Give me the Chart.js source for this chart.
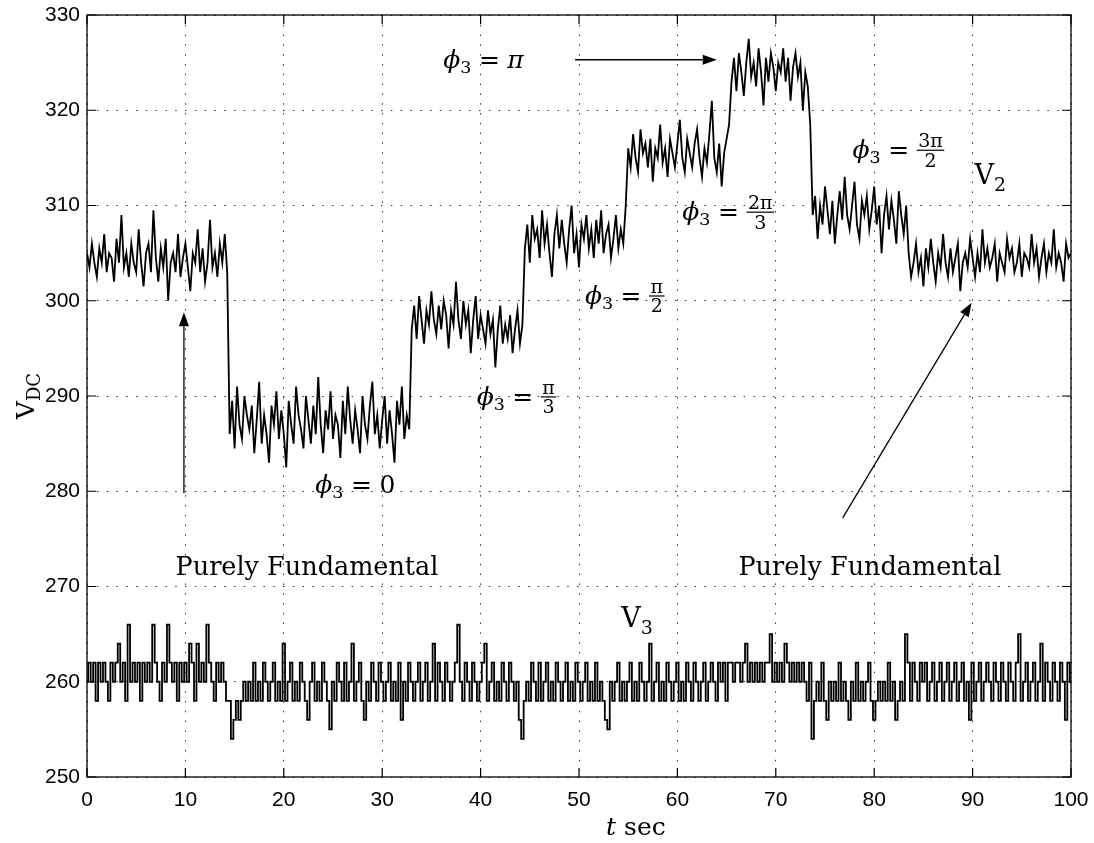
<!DOCTYPE html>
<html><head><meta charset="utf-8">
<script src="https://cdn.jsdelivr.net/npm/chart.js@4.4.1/dist/chart.umd.min.js"></script>
<style>html,body{margin:0;padding:0;background:#fff;}#wrap{width:1094px;height:843px;}</style>
</head><body><div id="wrap"><canvas id="c" width="1094" height="843"></canvas></div>
<script>
// sampling step of both traces (seconds)
const T_STEP = 0.25;
const xTicks = [0,10,20,30,40,50,60,70,80,90,100];
const yTicks = [250,260,270,280,290,300,310,320,330];

// V2 (upper trace), one value every 0.25 s
const v2 = [
305,303.5,306,304,302.5,305.5,304,307,303,305,
304.5,302,306.5,304,309,303.5,305,302.5,306,304,
303,307.5,304,301.5,305,306,303,309.5,304.5,302,
305.5,303.5,306.5,300,304,305,303,307,302.5,304.5,
306,303.5,301,305,304,307.5,303,305.5,302,304,
308.5,303.5,305,302.5,306,304,307,303,
286,289.5,284.5,291,287,285.5,290,288,286.5,289,
284,287.5,291.5,285,288,286,283,289,287,290.5,
285.5,288.5,286,282.5,289.5,287,285,291,288,286.5,
284.5,290,287.5,285,289,286,292,287,284,288.5,
286.5,290.5,285.5,288,287,283.5,289.5,286,291,287.5,
285,288.5,286.5,284,290,287,285.5,289,291.5,286,
288,284.5,287.5,290,285,288.5,286,283,289.5,287,
291,285.5,288,286.5,
297,299.5,296,300.5,298,295.5,299,297.5,301,298,
296.5,299.5,297,300,298.5,295,299,297.5,302,298,
296,300,297.5,299,294.5,298,300.5,296,298.5,297,
295.5,299,296.5,298,293,297,299.5,295.5,297.5,296,
298.5,294.5,297,299,295.5,297.5,
305.5,308,304,309,306.5,307.5,304.5,309.5,306,308,
305,302.5,307,309,305.5,308.5,306,304,307.5,310,
305,307,303.5,308,306.5,309,305.5,307.5,304.5,308.5,
306,309.5,305,307,308,304.5,306.5,309,305.5,307.5,
306,310,
316,314,317.5,315,313.5,318,315.5,316.5,314,317,
312.5,316,315,318.5,314.5,316,313,317,315.5,314,
316.5,319,315,313.5,317,315.5,314,316.5,318,315,
313,316,314.5,317.5,321,315,313.5,316.5,312,315.5,
317,318.5,
323,325.5,322,326,324,321.5,325,327.5,323.5,325,
322.5,326.5,324,320.5,325.5,323,326,324.5,322,325,
324,326.5,323,325.5,321,324.5,326,323.5,325,320,
324,322.5,318.5,
309,311,306.5,310,308,312,309.5,307,310.5,306,
309,311.5,308.5,313,309,307.5,310,312.5,308,306.5,
310.5,309,311,307.5,309.5,312,308,310,305,309,
311,307.5,310.5,308.5,306,311.5,309,307,310,
305,302.5,304,306,303,304.5,301.5,305.5,303.5,306.5,
304,302,305,303.5,307,304,302.5,305.5,303,304.5,
306,301,304,305,303.5,306.5,304.5,302.5,305,303,
307.5,304,305.5,303.5,304.5,306,302,305,304,303,
306.5,304.5,305.5,303,304,306,302.5,305,304.5,303.5,
307,304,305.5,302.5,304.5,306,303,305,304,307.5,
303.5,305,304,302,306,304.5,305
];

// V3 (lower trace), one value every 0.25 s
const v3 = [
260,262,260,262,258,262,260,262,260,258,
262,260,262,264,260,262,258,266,260,262,
260,262,258,262,260,262,260,266,262,260,
258,262,260,266,262,260,262,258,262,260,
262,260,264,262,258,264,260,262,260,266,
262,260,258,262,260,262,260,258,
258,254,256,258,256,258,260,
258,260,258,262,258,260,258,262,260,258,
260,262,258,260,258,264,258,260,262,258,
260,258,262,260,258,256,260,262,258,260,
258,262,260,258,255,260,258,262,260,258,
262,258,260,264,258,260,262,258,256,260,
258,262,260,258,262,260,258,260,262,258,
260,258,262,256,260,258,262,260,258,260,
262,258,260,262,258,260,264,258,262,260,
258,262,260,258,260,262,266,260,258,262,
260,258,262,260,258,260,262,264,258,260,
262,258,260,258,262,260,258,262,260,258,
260,256,254,258,260,258,262,260,258,262,
258,260,262,258,260,258,262,260,258,260,
262,258,260,258,262,260,258,260,262,258,
260,258,262,258,260,258,256,255,260,258,
260,262,258,260,258,260,262,258,260,258,
262,260,258,260,264,258,260,262,258,260,
258,262,260,258,260,262,258,260,258,262,
260,258,262,260,258,260,262,258,260,262,
260,258,262,260,262,258,262,
262,260,262,262,260,262,264,260,262,260,
262,260,262,260,262,262,265,260,262,260,
262,260,264,262,260,262,260,262,260,262,
260,258,262,
254,258,260,258,262,258,256,260,258,260,
258,262,258,260,258,256,260,258,262,258,
260,258,260,262,258,256,258,260,258,260,
258,262,258,260,256,258,260,258,265,
262,258,262,260,258,262,260,262,258,260,
262,258,260,262,258,260,262,258,260,262,
258,260,262,258,260,256,262,258,260,262,
258,260,262,260,258,262,260,258,262,260,
258,262,260,258,262,265,258,260,262,258,
260,262,258,260,264,258,262,260,258,262,
260,258,262,260,256,262,260
];

const SERIF = '"DejaVu Serif", "Liberation Serif", serif';
const SANS = '"Liberation Sans", Arial, sans-serif';

// annotation texts, anchored in data units (t, V)
const phiLabels = [
  {t: 36.2, v: 325.3, rhs: 'π'},
  {t: 60.5, v: 309.3, num: '2π', den: '3'},
  {t: 77.8, v: 315.8, num: '3π', den: '2'},
  {t: 50.6, v: 300.5, num: 'π', den: '2'},
  {t: 39.6, v: 289.9, num: 'π', den: '3'},
  {t: 23.2, v: 280.7, rhs: '0'}
];
const vLabels = [
  {t: 90.2, v: 313.0, main: 'V', sub: '2'},
  {t: 54.3, v: 266.5, main: 'V', sub: '3'}
];
const textLabels = [
  {t: 9.0, v: 271.9, text: 'Purely Fundamental'},
  {t: 66.2, v: 271.9, text: 'Purely Fundamental'}
];
const arrows = [
  {t1: 49.6, v1: 325.3, t2: 64.0, v2: 325.3},
  {t1: 9.85, v1: 279.8, t2: 9.85, v2: 298.8},
  {t1: 76.8, v1: 277.2, t2: 89.9, v2: 299.8}
];

function drawArrow(ctx, x1, y1, x2, y2) {
  const a = Math.atan2(y2 - y1, x2 - x1);
  const L = 14, W = 5;
  ctx.beginPath(); ctx.moveTo(x1, y1);
  ctx.lineTo(x2 - L * Math.cos(a), y2 - L * Math.sin(a)); ctx.stroke();
  ctx.beginPath();
  ctx.moveTo(x2, y2);
  ctx.lineTo(x2 - L * Math.cos(a) + W * Math.sin(a), y2 - L * Math.sin(a) - W * Math.cos(a));
  ctx.lineTo(x2 - L * Math.cos(a) - W * Math.sin(a), y2 - L * Math.sin(a) + W * Math.cos(a));
  ctx.closePath(); ctx.fill();
}

function drawPhi(ctx, x, yc, lab) {
  const S = 25;
  const base = yc + S * 0.32;
  ctx.textBaseline = 'alphabetic'; ctx.textAlign = 'left';
  ctx.font = 'italic ' + S + 'px ' + SERIF;
  ctx.fillText('ϕ', x, base);
  let cx = x + ctx.measureText('ϕ').width;
  ctx.font = (S * 0.7) + 'px ' + SERIF;
  ctx.fillText('3', cx, base + S * 0.2);
  cx += ctx.measureText('3').width + S * 0.3;
  ctx.font = S + 'px ' + SERIF;
  ctx.fillText('=', cx, base);
  cx += ctx.measureText('=').width + S * 0.3;
  if (lab.rhs) {
    ctx.font = (lab.rhs === 'π' ? 'italic ' : '') + S + 'px ' + SERIF;
    ctx.fillText(lab.rhs, cx, base);
  } else {
    const fs = S * 0.76;
    ctx.font = fs + 'px ' + SERIF;
    const wn = ctx.measureText(lab.num).width, wd = ctx.measureText(lab.den).width;
    const w = Math.max(wn, wd) + 3;
    ctx.textAlign = 'center';
    ctx.fillText(lab.num, cx + w / 2, yc - 3);
    ctx.fillText(lab.den, cx + w / 2, yc + fs * 0.76 + 2);
    ctx.fillRect(cx, yc - 0.6, w, 1.2);
    ctx.textAlign = 'left';
  }
}

const decor = {
  id: 'decor',
  beforeDraw(chart) {
    const ctx = chart.ctx;
    ctx.save(); ctx.fillStyle = '#fff'; ctx.fillRect(0, 0, chart.width, chart.height); ctx.restore();
  },
  afterDraw(chart) {
    const ctx = chart.ctx, ca = chart.chartArea;
    const xs = chart.scales.x, ys = chart.scales.y;
    ctx.save();
    ctx.strokeStyle = '#000'; ctx.fillStyle = '#000'; ctx.lineWidth = 1.3;
    ctx.strokeRect(ca.left, ca.top, ca.right - ca.left, ca.bottom - ca.top);
    const TL = 9;
    ctx.lineWidth = 1.2;
    ctx.beginPath();
    xTicks.forEach(t => { const p = xs.getPixelForValue(t);
      ctx.moveTo(p, ca.bottom); ctx.lineTo(p, ca.bottom - TL);
      ctx.moveTo(p, ca.top); ctx.lineTo(p, ca.top + TL); });
    yTicks.forEach(v => { const p = ys.getPixelForValue(v);
      ctx.moveTo(ca.left, p); ctx.lineTo(ca.left + TL, p);
      ctx.moveTo(ca.right, p); ctx.lineTo(ca.right - TL, p); });
    ctx.stroke();

    // annotations
    phiLabels.forEach(l => drawPhi(ctx, xs.getPixelForValue(l.t), ys.getPixelForValue(l.v), l));
    vLabels.forEach(l => {
      const x = xs.getPixelForValue(l.t), y = ys.getPixelForValue(l.v);
      ctx.font = '27px ' + SERIF; ctx.textAlign = 'left'; ctx.textBaseline = 'middle';
      ctx.fillText(l.main, x, y);
      const w = ctx.measureText(l.main).width;
      ctx.font = '19px ' + SERIF;
      ctx.fillText(l.sub, x + w, y + 9);
    });
    textLabels.forEach(l => {
      ctx.font = '25.5px ' + SERIF; ctx.textAlign = 'left'; ctx.textBaseline = 'middle';
      ctx.fillText(l.text, xs.getPixelForValue(l.t), ys.getPixelForValue(l.v));
    });
    ctx.lineWidth = 1.3;
    arrows.forEach(a => drawArrow(ctx, xs.getPixelForValue(a.t1), ys.getPixelForValue(a.v1),
                                       xs.getPixelForValue(a.t2), ys.getPixelForValue(a.v2)));

    // axis titles
    const midY = (ca.top + ca.bottom) / 2;
    ctx.save();
    ctx.translate(34, midY);
    ctx.rotate(-Math.PI / 2);
    ctx.textBaseline = 'alphabetic'; ctx.textAlign = 'left';
    ctx.font = '25px ' + SERIF;
    const wV = ctx.measureText('V').width;
    ctx.font = '18px ' + SERIF;
    const wDC = ctx.measureText('DC').width;
    const x0 = -(wV + wDC) / 2;
    ctx.font = '25px ' + SERIF; ctx.fillText('V', x0, 0);
    ctx.font = '18px ' + SERIF; ctx.fillText('DC', x0 + wV, 6);
    ctx.restore();

    ctx.textBaseline = 'alphabetic'; ctx.textAlign = 'left';
    ctx.font = 'italic 25px ' + SERIF;
    const tx = 606;
    ctx.fillText('t', tx, 835);
    const wt = ctx.measureText('t').width;
    ctx.font = '25px ' + SERIF;
    ctx.fillText('sec', tx + wt + 8, 835);
    ctx.restore();
  }
};

const pts = arr => arr.map((v, i) => ({x: i * T_STEP, y: v}));

new Chart(document.getElementById('c'), {
  type: 'line',
  data: {
    datasets: [
      {label: 'V2', data: pts(v2), borderColor: '#000', borderWidth: 1.8, pointRadius: 0, tension: 0},
      {label: 'V3', data: pts(v3), borderColor: '#000', borderWidth: 1.8, pointRadius: 0, tension: 0, stepped: 'middle'}
    ]
  },
  options: {
    responsive: false, animation: false, devicePixelRatio: 1,
    layout: {padding: {left: 0, right: 23, top: 15, bottom: 0}},
    plugins: {legend: {display: false}, tooltip: {enabled: false}},
    scales: {
      x: {
        type: 'linear', min: 0, max: 100,
        afterBuildTicks: s => { s.ticks = xTicks.map(v => ({value: v})); },
        ticks: {color: '#000', font: {family: SANS, size: 21}, padding: 11, maxRotation: 0, autoSkip: false},
        grid: {color: '#333', lineWidth: 1, drawTicks: false},
        border: {display: false, dash: [1.5, 8.3]},
        afterFit: s => { s.height = 66; s.paddingLeft = 0; s.paddingRight = 0; }
      },
      y: {
        type: 'linear', min: 250, max: 330,
        afterBuildTicks: s => { s.ticks = yTicks.map(v => ({value: v})); },
        ticks: {color: '#000', font: {family: SANS, size: 21}, padding: 7, autoSkip: false},
        grid: {color: '#333', lineWidth: 1, drawTicks: false},
        border: {display: false, dash: [1.5, 8.3]},
        afterFit: s => { s.width = 87; s.paddingTop = 0; s.paddingBottom = 0; }
      }
    }
  },
  plugins: [decor]
});
</script></body></html>
